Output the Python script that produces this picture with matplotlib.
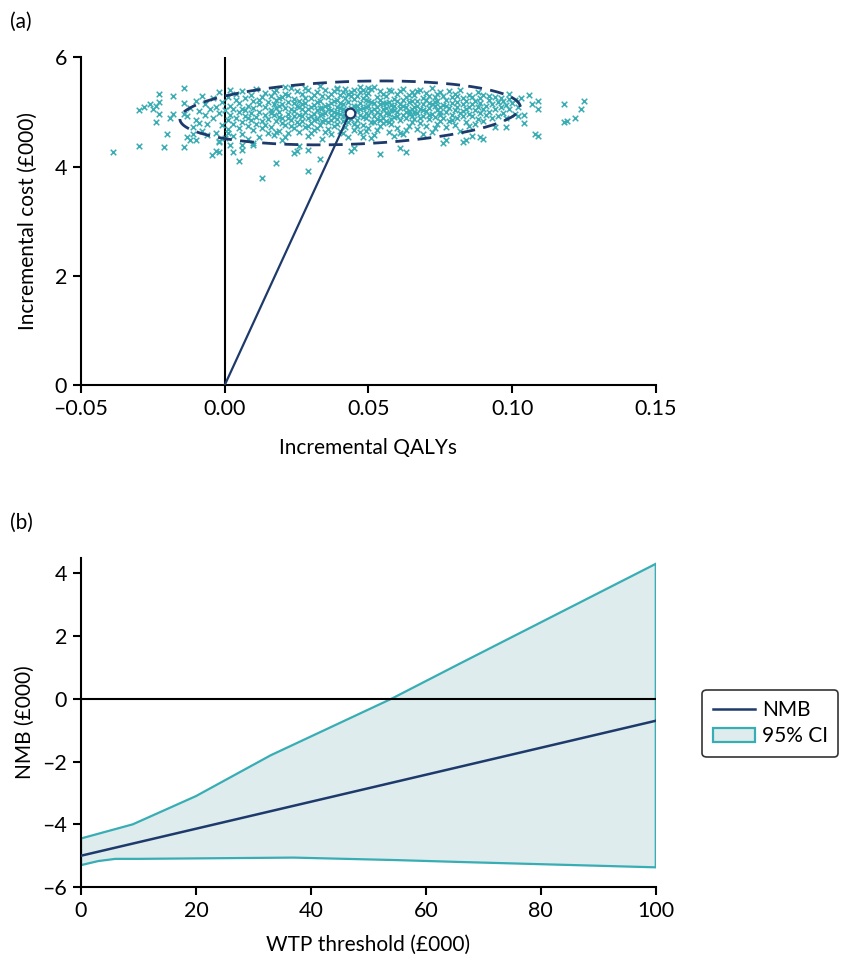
import numpy as np
import matplotlib

matplotlib.use("Agg")
import matplotlib.pyplot as plt
from matplotlib.patches import Patch
from matplotlib.lines import Line2D
from matplotlib.ticker import FuncFormatter

plt.rcParams["font.family"] = ["Lato", "DejaVu Sans"]
plt.rcParams["axes.unicode_minus"] = True

NAVY = "#1d3a6b"
TEAL = "#38adb4"
FILL = "#deecee"

# ---- (a) bootstrap replicates (QALY, cost £000) ----
sims = [
    # outliers, left side
    (-0.039, 4.27), (-0.030, 4.37), (-0.021, 4.36), (-0.014, 4.36), (-0.020, 4.59),
    (-0.024, 4.81), (-0.030, 5.03), (-0.028, 5.10), (-0.026, 5.14), (-0.025, 5.06),
    (-0.024, 5.12), (-0.023, 5.18), (-0.023, 5.33), (-0.023, 4.97), (-0.018, 5.29),
    (-0.014, 5.44), (-0.019, 4.89), (-0.018, 4.97), (-0.013, 4.54), (-0.012, 4.48),
    (-0.010, 4.48), (-0.011, 4.59), (-0.014, 4.97), (-0.0045, 4.22), (-0.003, 4.29),
    (-0.002, 4.27), (-0.002, 4.45),
    # outliers, below
    (0.001, 4.62), (0.002, 4.39), (0.003, 4.26), (0.005, 4.10), (0.006, 4.39),
    (0.006, 4.31), (0.010, 4.40), (0.013, 3.80), (0.018, 4.06), (0.024, 4.25),
    (0.025, 4.29), (0.029, 3.93), (0.033, 4.15), (0.029, 4.31), (0.026, 4.37),
    (0.044, 4.29), (0.045, 4.34), (0.054, 4.24), (0.063, 4.27), (0.061, 4.35),
    (0.076, 4.44), (0.077, 4.48), (0.083, 4.45),
    # outliers, right side
    (0.125, 5.20), (0.124, 5.05), (0.122, 4.90), (0.119, 4.84), (0.118, 4.81),
    (0.118, 5.14), (0.109, 5.20), (0.109, 5.05), (0.107, 5.14), (0.106, 5.31),
    (0.104, 4.95), (0.104, 4.80), (0.108, 4.59), (0.109, 4.56), (0.103, 5.26),
    (0.102, 4.92), (0.099, 5.33), (0.098, 4.72), (0.094, 4.72), (0.090, 4.51),
    (0.089, 4.54), (0.086, 4.57), (0.084, 4.48), (0.092, 5.29),
    (0.039, 5.43), (0.021, 5.46), (0.047, 5.46),
    # core cloud
    (-0.013, 4.93), (-0.012, 5.08), (-0.011, 4.72), (-0.010, 5.21), (-0.010, 4.86),
    (-0.009, 5.02), (-0.008, 4.65), (-0.008, 5.30), (-0.007, 4.95), (-0.007, 5.14),
    (-0.006, 4.78), (-0.006, 4.58), (-0.005, 5.05), (-0.014, 5.17), (-0.009, 4.80),
    (-0.004, 5.25), (-0.004, 4.89), (-0.003, 5.10), (-0.003, 4.62), (-0.002, 4.98),
    (-0.002, 5.36), (-0.001, 4.76), (-0.001, 5.18), (0.000, 4.52), (0.000, 5.04),
    (0.001, 4.85), (0.001, 5.28), (0.001, 4.69), (0.002, 5.12), (0.002, 4.94),
    (0.002, 5.41), (0.003, 4.79), (0.003, 5.06), (0.003, 4.57), (0.004, 5.22),
    (0.004, 4.90), (0.004, 5.33), (0.005, 4.71), (0.005, 5.00), (-0.002, 4.47),
    (0.005, 5.16), (0.006, 4.82), (0.006, 5.38), (0.006, 4.60), (0.007, 5.04),
    (0.007, 4.93), (0.007, 5.26), (0.008, 4.74), (0.008, 5.11), (0.008, 4.50),
    (0.009, 4.98), (0.009, 5.31), (0.009, 4.86), (0.010, 5.20), (0.010, 4.67),
    (0.010, 5.07), (0.011, 4.91), (0.011, 5.42), (0.011, 4.78), (0.012, 5.14),
    (0.012, 4.55), (0.012, 5.00), (0.013, 4.84), (0.013, 5.27), (0.013, 4.70),
    (0.014, 5.09), (0.014, 4.95), (0.014, 5.35), (0.015, 4.62), (0.015, 5.18),
    (0.010, 4.44), (0.006, 5.05), (0.012, 5.23), (0.008, 4.89), (0.014, 4.76),
    (0.015, 4.88), (0.016, 5.04), (0.016, 5.30), (0.016, 4.72), (0.017, 5.15),
    (0.017, 4.95), (0.017, 4.58), (0.018, 5.22), (0.018, 4.83), (0.018, 5.40),
    (0.019, 5.01), (0.019, 4.66), (0.019, 5.12), (0.020, 4.90), (0.020, 5.27),
    (0.020, 4.49), (0.021, 5.08), (0.021, 4.77), (0.021, 5.34), (0.022, 4.97),
    (0.022, 5.19), (0.022, 4.61), (0.023, 5.05), (0.023, 4.86), (0.023, 5.45),
    (0.024, 4.93), (0.024, 5.24), (0.024, 4.70), (0.025, 5.11), (0.025, 4.81),
    (0.016, 4.98), (0.017, 5.36), (0.018, 4.64), (0.019, 4.91), (0.020, 5.14),
    (0.021, 4.54), (0.022, 5.31), (0.023, 4.75), (0.024, 5.02), (0.025, 5.38),
    (0.018, 5.07), (0.020, 4.80), (0.022, 4.89), (0.024, 5.16), (0.019, 5.25),
    (0.026, 4.95), (0.026, 5.21), (0.026, 4.63), (0.027, 5.06), (0.027, 4.84),
    (0.027, 5.33), (0.028, 5.00), (0.028, 4.73), (0.028, 5.17), (0.029, 4.90),
    (0.029, 5.41), (0.029, 4.56), (0.030, 5.09), (0.030, 4.80), (0.030, 5.26),
    (0.031, 4.97), (0.031, 5.13), (0.031, 4.67), (0.032, 5.03), (0.032, 4.88),
    (0.032, 5.36), (0.033, 4.77), (0.033, 5.20), (0.033, 4.94), (0.034, 5.07),
    (0.034, 4.51), (0.034, 5.29), (0.035, 4.86), (0.035, 5.12), (0.035, 4.99),
    (0.026, 5.10), (0.027, 4.92), (0.028, 5.44), (0.029, 5.05), (0.030, 4.61),
    (0.031, 5.31), (0.032, 4.70), (0.033, 5.08), (0.034, 4.83), (0.035, 5.40),
    (0.026, 4.79), (0.028, 5.25), (0.030, 4.93), (0.032, 5.18), (0.034, 4.96),
    (0.027, 5.15), (0.029, 4.74), (0.031, 4.85), (0.033, 5.47), (0.035, 4.64),
    (0.036, 5.05), (0.036, 4.82), (0.036, 5.27), (0.037, 4.95), (0.037, 5.16),
    (0.037, 4.59), (0.038, 5.01), (0.038, 5.38), (0.038, 4.75), (0.039, 5.10),
    (0.039, 4.88), (0.039, 5.22), (0.040, 4.97), (0.040, 4.66), (0.040, 5.32),
    (0.041, 5.06), (0.041, 4.83), (0.041, 5.14), (0.042, 4.92), (0.042, 5.43),
    (0.042, 4.72), (0.043, 5.19), (0.043, 5.00), (0.043, 4.55), (0.044, 5.08),
    (0.044, 4.87), (0.044, 5.29), (0.045, 4.96), (0.045, 5.12), (0.045, 4.78),
    (0.036, 4.69), (0.037, 5.34), (0.038, 4.91), (0.039, 5.45), (0.040, 5.08),
    (0.041, 4.62), (0.042, 5.25), (0.043, 4.81), (0.044, 5.37), (0.045, 4.68),
    (0.036, 5.13), (0.037, 4.86), (0.038, 5.20), (0.039, 4.79), (0.040, 5.16),
    (0.041, 5.36), (0.042, 5.03), (0.043, 5.33), (0.044, 4.98), (0.045, 5.24),
    (0.037, 5.04), (0.039, 4.98), (0.041, 4.93), (0.043, 4.90), (0.045, 5.41),
    (0.046, 5.03), (0.046, 4.85), (0.046, 5.30), (0.047, 4.94), (0.047, 5.17),
    (0.047, 4.63), (0.048, 5.07), (0.048, 5.40), (0.048, 4.77), (0.049, 4.99),
    (0.049, 5.23), (0.049, 4.89), (0.050, 5.11), (0.050, 4.70), (0.050, 5.35),
    (0.051, 5.02), (0.051, 4.82), (0.051, 5.19), (0.052, 4.93), (0.052, 5.46),
    (0.052, 4.58), (0.053, 5.09), (0.053, 4.87), (0.053, 5.27), (0.054, 4.97),
    (0.054, 5.14), (0.054, 4.74), (0.055, 5.05), (0.055, 5.33), (0.055, 4.90),
    (0.046, 5.12), (0.047, 5.37), (0.048, 4.91), (0.049, 4.66), (0.050, 5.21),
    (0.051, 5.42), (0.052, 5.06), (0.053, 4.68), (0.054, 5.38), (0.055, 4.80),
    (0.046, 4.74), (0.047, 5.05), (0.048, 5.26), (0.049, 5.09), (0.050, 4.95),
    (0.051, 4.52), (0.052, 5.16), (0.053, 5.00), (0.054, 5.22), (0.055, 5.16),
    (0.048, 4.55), (0.050, 5.44), (0.052, 4.81), (0.054, 4.86), (0.049, 5.31),
    (0.056, 5.08), (0.056, 4.84), (0.056, 5.29), (0.057, 4.96), (0.057, 5.18),
    (0.057, 4.64), (0.058, 5.04), (0.058, 5.39), (0.058, 4.78), (0.059, 5.12),
    (0.059, 4.91), (0.059, 5.24), (0.060, 5.00), (0.060, 4.70), (0.060, 5.34),
    (0.061, 5.07), (0.061, 4.86), (0.061, 5.15), (0.062, 4.95), (0.062, 5.43),
    (0.062, 4.59), (0.063, 5.10), (0.063, 4.89), (0.063, 5.27), (0.064, 5.02),
    (0.064, 5.19), (0.064, 4.75), (0.065, 5.06), (0.065, 4.93), (0.065, 5.36),
    (0.056, 4.99), (0.057, 5.41), (0.058, 4.88), (0.059, 4.56), (0.060, 5.20),
    (0.061, 5.38), (0.062, 5.11), (0.063, 4.68), (0.064, 5.31), (0.065, 4.81),
    (0.056, 5.17), (0.058, 5.13), (0.060, 4.92), (0.062, 5.23), (0.064, 4.97),
    (0.057, 4.82), (0.059, 5.03), (0.061, 4.62), (0.063, 5.01), (0.065, 5.21),
    (0.066, 5.10), (0.066, 4.87), (0.066, 5.32), (0.067, 4.98), (0.067, 5.21),
    (0.067, 4.69), (0.068, 5.05), (0.068, 5.40), (0.068, 4.80), (0.069, 5.14),
    (0.069, 4.92), (0.069, 5.26), (0.070, 5.02), (0.070, 4.74), (0.070, 5.35),
    (0.071, 5.08), (0.071, 4.88), (0.071, 5.17), (0.072, 4.97), (0.072, 5.44),
    (0.072, 4.63), (0.073, 5.12), (0.073, 4.91), (0.073, 5.28), (0.074, 5.04),
    (0.074, 5.20), (0.074, 4.78), (0.075, 5.09), (0.075, 4.95), (0.075, 5.37),
    (0.066, 5.00), (0.067, 5.38), (0.068, 4.90), (0.069, 4.60), (0.070, 5.22),
    (0.071, 5.30), (0.072, 5.15), (0.073, 4.70), (0.074, 5.33), (0.075, 4.84),
    (0.067, 5.12), (0.069, 5.04), (0.071, 4.95), (0.073, 5.19), (0.075, 5.01),
    (0.076, 5.13), (0.076, 4.90), (0.076, 5.30), (0.077, 5.01), (0.077, 5.22),
    (0.077, 4.72), (0.078, 5.07), (0.078, 5.38), (0.078, 4.83), (0.079, 5.16),
    (0.079, 4.95), (0.079, 5.27), (0.080, 5.04), (0.080, 4.77), (0.080, 5.34),
    (0.081, 5.10), (0.081, 4.89), (0.081, 5.19), (0.082, 4.99), (0.082, 5.41),
    (0.082, 4.66), (0.083, 5.14), (0.083, 4.93), (0.083, 5.25), (0.084, 5.06),
    (0.084, 5.21), (0.084, 4.81), (0.085, 5.09), (0.085, 4.97), (0.085, 5.32),
    (0.077, 5.11), (0.079, 4.86), (0.081, 5.29), (0.083, 5.02), (0.085, 4.74),
    (0.086, 5.15), (0.086, 4.92), (0.086, 5.28), (0.087, 5.03), (0.087, 5.20),
    (0.087, 4.79), (0.088, 5.09), (0.088, 5.36), (0.088, 4.87), (0.089, 5.17),
    (0.089, 4.98), (0.089, 5.25), (0.090, 5.06), (0.090, 4.84), (0.090, 5.31),
    (0.091, 5.12), (0.091, 4.95), (0.092, 5.22), (0.092, 5.01), (0.093, 5.14),
    (0.093, 4.89), (0.094, 5.27), (0.094, 5.05), (0.095, 5.18), (0.095, 4.93),
    (0.096, 5.10), (0.096, 5.26), (0.097, 4.98), (0.097, 5.20), (0.098, 5.13),
    (0.098, 4.90), (0.099, 5.24), (0.099, 5.05), (0.100, 5.16), (0.101, 4.97),
    (0.101, 5.22), (0.102, 5.09),
]
sim_qaly = np.array([p[0] for p in sims])
sim_cost = np.array([p[1] for p in sims])

mean_qaly, mean_cost = 0.0436, 4.99
# 95% ellipse: centre, half-widths, and a small tilt (cost per QALY)
ell_cx, ell_cy = 0.0436, 4.985
ell_a, ell_b = 0.0592, 0.575
ell_tilt = 1.86

# ---- (b) net monetary benefit vs WTP ----
wtp = [0, 100]
nmb = [-5.0, -0.70]
ci_hi_wtp = [0, 5, 9, 20, 33, 54, 66, 100]
ci_hi = [-4.45, -4.2, -4.0, -3.1, -1.8, 0.0, 1.13, 4.3]
ci_lo_wtp = [0, 3, 6, 10, 37, 55, 66, 100]
ci_lo = [-5.30, -5.17, -5.10, -5.10, -5.06, -5.14, -5.20, -5.37]

fig = plt.figure(figsize=(8.44, 9.58), dpi=100)
axA = fig.add_axes([0.096, 0.598, 0.681, 0.342])
axB = fig.add_axes([0.096, 0.074, 0.681, 0.344])

FS = 15
TFS = 15.5
for ax in (axA, axB):
    ax.spines["top"].set_visible(False)
    ax.spines["right"].set_visible(False)
    for s in ("left", "bottom"):
        ax.spines[s].set_linewidth(1.5)
    ax.tick_params(width=1.5, length=6, labelsize=TFS, pad=4)

# panel a
axA.plot([0, 0], [0, 6], color="black", lw=1.5, zorder=2)
axA.scatter(sim_qaly, sim_cost, marker="x", s=16, linewidths=1.1, color=TEAL, zorder=3)
t = np.linspace(0, 2 * np.pi, 300)
ex = ell_cx + ell_a * np.cos(t)
ey = ell_cy + ell_b * np.sin(t) + ell_tilt * (ex - ell_cx)
axA.plot(ex, ey, color=NAVY, lw=2, ls=(0, (5, 3)), zorder=4)
axA.plot([0, mean_qaly], [0, mean_cost], color=NAVY, lw=1.6, zorder=5)
axA.plot([mean_qaly], [mean_cost], marker="o", ms=7, mfc="white", mec=NAVY, mew=1.6, zorder=6)
axA.set_xlim(-0.05, 0.15)
axA.set_ylim(0, 6)
axA.set_xticks([-0.05, 0.0, 0.05, 0.10, 0.15])
axA.xaxis.set_major_formatter(FuncFormatter(lambda v, p: f"{v:.2f}".replace("-", "\u2013")))
axA.set_yticks([0, 2, 4, 6])
axA.set_xlabel("Incremental QALYs", fontsize=FS, labelpad=14)
axA.set_ylabel("Incremental cost (£000)", fontsize=FS, labelpad=12)

# panel b
ci_x = ci_hi_wtp + ci_lo_wtp[::-1]
ci_y = ci_hi + ci_lo[::-1]
axB.fill(ci_x, ci_y, facecolor=FILL, edgecolor=TEAL, lw=1.6, zorder=1)
axB.axhline(0, color="black", lw=1.5, zorder=2)
axB.plot(wtp, nmb, color=NAVY, lw=1.8, zorder=3)
axB.set_xlim(0, 100)
axB.set_ylim(-6, 4.5)
axB.set_xticks([0, 20, 40, 60, 80, 100])
axB.set_yticks([-6, -4, -2, 0, 2, 4])
axB.yaxis.set_major_formatter(FuncFormatter(lambda v, p: f"{v:g}".replace("-", "\u2013")))
axB.set_xlabel("WTP threshold (£000)", fontsize=FS, labelpad=10)
axB.set_ylabel("NMB (£000)", fontsize=FS, labelpad=5)

handles = [
    Line2D([], [], color=NAVY, lw=1.8, label="NMB"),
    Patch(facecolor=FILL, edgecolor=TEAL, lw=1.6, label="95% CI"),
]
leg = fig.legend(
    handles=handles,
    loc="center left",
    bbox_to_anchor=(0.82, 0.245),
    fontsize=15,
    frameon=True,
    fancybox=True,
    handlelength=2.0,
    handletextpad=0.35,
    borderpad=0.5,
    labelspacing=0.3,
)
leg.get_frame().set_edgecolor("black")
leg.get_frame().set_linewidth(1.2)

fig.text(0.012, 0.977, "(a)", fontsize=FS, va="center")
fig.text(0.012, 0.454, "(b)", fontsize=FS, va="center")

fig.savefig("out.png", dpi=100)
